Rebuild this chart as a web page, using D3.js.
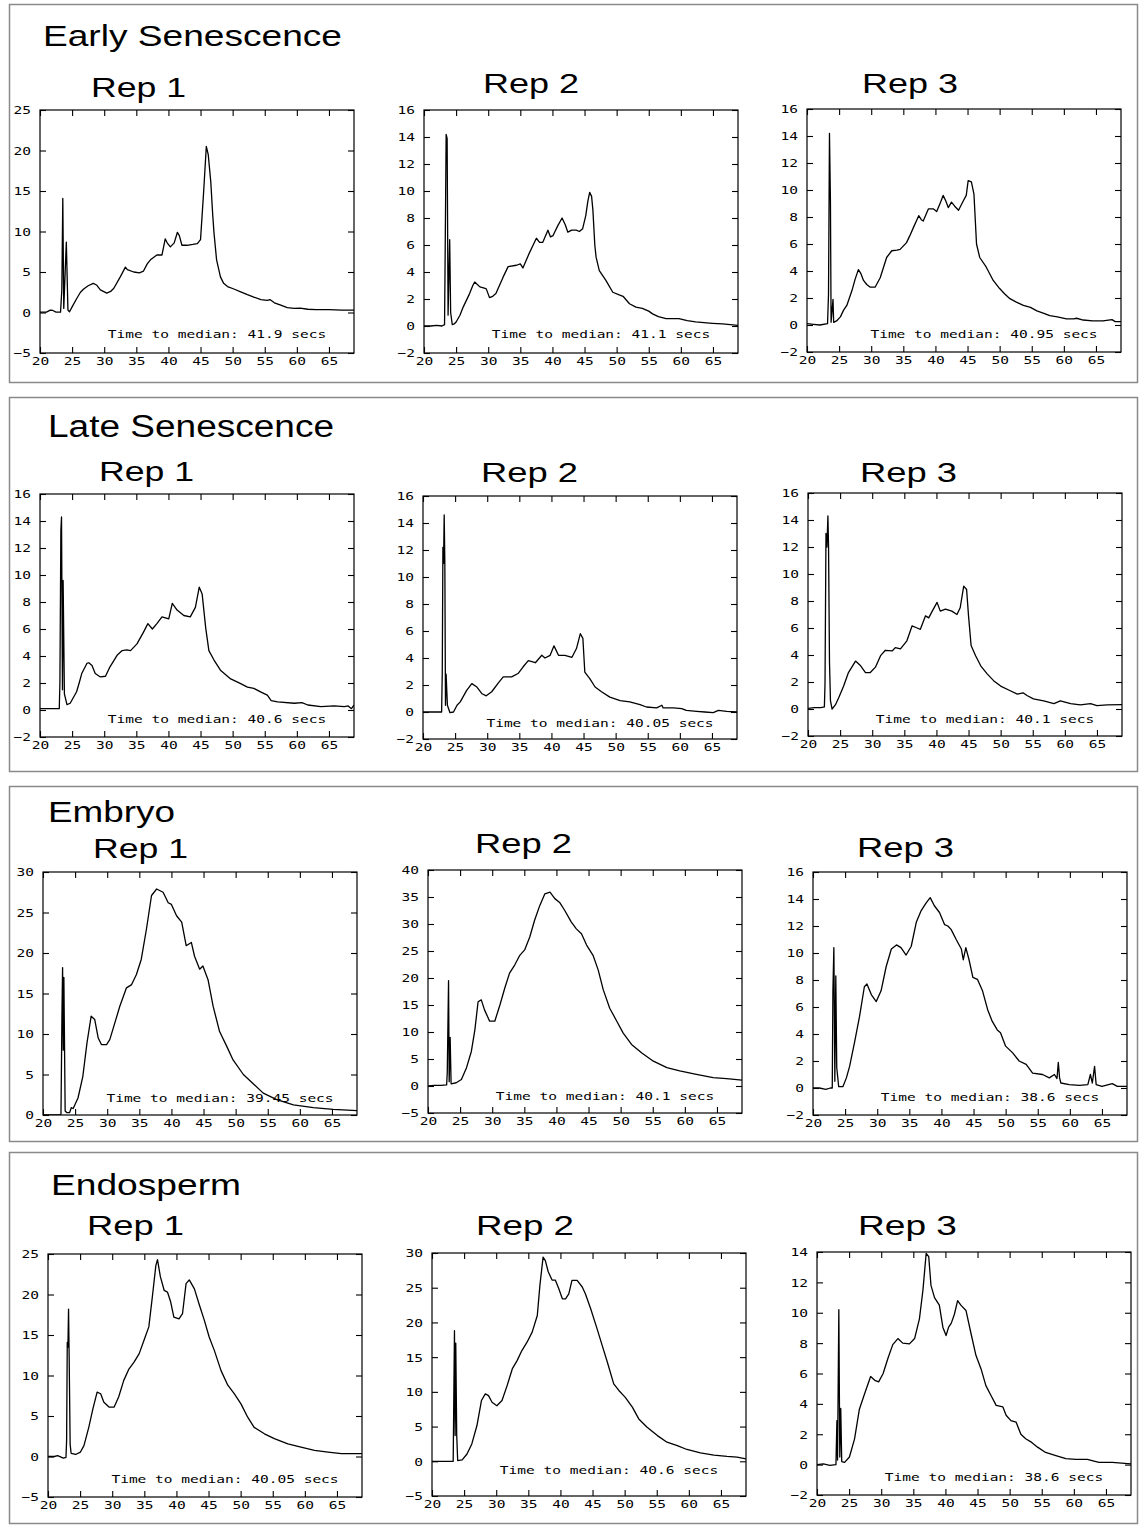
<!DOCTYPE html>
<html>
<head>
<meta charset="utf-8">
<script src="https://cdn.jsdelivr.net/npm/d3@7"></script>
<style>
  body { margin: 0; background: #fff; }
  svg { display: block; }
</style>
</head>
<body>
<svg id="chart" width="1139" height="1525"></svg>
<script>
// ---- Values ----------------------------------------------------------
const groupNames = ["Early Senescence", "Late Senescence", "Embryo", "Endosperm"];
const repNames = ["Rep 1", "Rep 2", "Rep 3"];
const xTicks = [20, 25, 30, 35, 40, 45, 50, 55, 60, 65];

// y tick values per plot (row-major: group, then rep)
const yTicksA = [-5, 0, 5, 10, 15, 20, 25];
const yTicksB = [-2, 0, 2, 4, 6, 8, 10, 12, 14, 16];
const yTicksC = [0, 5, 10, 15, 20, 25, 30];
const yTicksD = [-5, 0, 5, 10, 15, 20, 25, 30, 35, 40];
const yTicksE = [-5, 0, 5, 10, 15, 20, 25, 30];
const yTicksF = [-2, 0, 2, 4, 6, 8, 10, 12, 14];

// time to median (secs)
const medians = ["41.9", "41.1", "40.95", "40.6", "40.05", "40.1",
                 "39.45", "40.1", "38.6", "40.05", "40.6", "38.6"];

// electropherogram traces: [time (s), fluorescence]
const earlyRep1 = [[20,0.05],[21,0.05],[21.6,0.3],[22,0.25],[22.5,0.05],[23.2,0.05],[23.4,2.8],[23.55,14.1],[23.7,0.5],[24.1,8.7],[24.35,0.3],[24.6,0.1],[25,0.7],[25.7,1.7],[26.3,2.5],[26.8,2.9],[27.5,3.3],[28.3,3.6],[28.8,3.4],[29.4,2.8],[30.4,2.4],[31.0,2.6],[31.5,3.0],[32.5,4.4],[33.3,5.6],[33.6,5.3],[34.6,5.0],[35.5,4.9],[36.1,5.1],[36.7,6.0],[37.2,6.5],[38.2,7.1],[39.0,7.1],[39.5,9.1],[39.8,8.6],[40.3,8.1],[40.9,8.6],[41.4,9.9],[41.7,9.5],[42.1,8.3],[42.9,8.3],[43.8,8.4],[44.5,8.5],[45.0,9.0],[45.5,15.1],[45.9,20.5],[46.2,19.5],[46.6,16.1],[46.9,12],[47.1,9.8],[47.5,6.5],[48.1,4.4],[48.6,3.6],[49.2,3.2],[50.2,2.9],[51.25,2.55],[52.3,2.2],[53.3,1.9],[54.4,1.6],[55.4,1.5],[55.8,1.6],[56.5,1.2],[57.5,0.9],[58.5,0.6],[59.6,0.5],[60.5,0.55],[61.7,0.4],[63,0.35],[65,0.35],[67,0.3],[68.9,0.3]];
const earlyRep2 = [[20,0],[21,0],[22,0.05],[22.8,0],[23.2,0.1],[23.3,5.6],[23.45,14.2],[23.6,13.9],[23.75,0.8],[24.0,6.4],[24.15,1.0],[24.4,0.1],[24.7,0.15],[25.0,0.3],[25.6,0.8],[26.1,1.4],[27.1,2.4],[27.6,3.0],[27.9,3.26],[28.7,2.9],[29.4,2.8],[29.7,2.75],[30.2,2.1],[30.7,2.2],[31.2,2.4],[32.3,3.6],[33.1,4.4],[34.4,4.5],[35.0,4.6],[35.4,4.3],[36.4,5.4],[37.0,6.0],[37.5,6.5],[38.0,6.2],[38.5,6.2],[39.3,7.1],[39.7,6.6],[40.1,6.7],[40.8,7.4],[41.5,8.0],[42.0,7.5],[42.4,6.95],[43.0,7.1],[43.7,7.1],[44.2,7.0],[44.7,7.2],[45.2,8.2],[45.5,9.2],[45.8,9.9],[46.1,9.6],[46.3,8.6],[46.6,6.0],[46.8,5.1],[47.3,4.1],[48.3,3.4],[49.4,2.5],[50.4,2.3],[51.0,2.2],[52.0,1.65],[53.0,1.4],[54.0,1.3],[55.0,1.1],[55.6,0.9],[56.5,0.7],[57.7,0.55],[59.7,0.55],[61.0,0.4],[62.3,0.3],[64.9,0.2],[66.5,0.15],[68.9,0.05]];
const earlyRep3 = [[20,0.1],[21,0.05],[22,0.0],[23.2,0.1],[23.35,2.3],[23.5,14.2],[23.65,9.2],[23.75,0.2],[24.05,1.9],[24.15,0.2],[24.6,0.3],[25.2,0.6],[25.7,1.1],[26.2,1.45],[27.0,2.55],[27.5,3.4],[28.0,4.1],[28.4,3.8],[28.8,3.3],[29.3,3.0],[29.85,2.8],[30.6,2.8],[31.4,3.5],[32.4,5.0],[33.2,5.5],[34.0,5.55],[34.5,5.6],[35.5,6.1],[36.0,6.6],[36.6,7.25],[37.4,8.1],[37.8,7.8],[38.1,7.7],[38.9,8.6],[39.7,8.6],[40.2,8.4],[40.8,9.1],[41.2,9.6],[41.6,9.2],[42.0,8.7],[42.5,9.1],[43.0,8.8],[43.6,8.5],[44.35,9.2],[44.8,9.6],[45.1,10.7],[45.6,10.6],[46.0,9.7],[46.4,6.0],[46.9,5.0],[47.9,4.3],[49.0,3.3],[50.0,2.7],[50.8,2.3],[51.6,1.95],[52.6,1.7],[53.7,1.45],[54.8,1.3],[55.8,1.05],[57.0,0.85],[57.8,0.7],[59.0,0.6],[60.4,0.45],[61.5,0.45],[62.0,0.5],[63.0,0.37],[64.5,0.3],[66.1,0.3],[67.5,0.4],[68.0,0.25],[68.9,0.25]];
const lateRep1 = [[20,0.1],[21,0.1],[22,0.1],[23.0,0.1],[23.1,2.0],[23.25,13.3],[23.35,14.3],[23.5,1.5],[23.6,9.6],[23.8,1.2],[24.2,0.4],[24.7,0.5],[25.7,1.35],[26.1,2.0],[26.5,2.7],[27.3,3.45],[27.6,3.5],[28.1,3.3],[28.6,2.7],[29.4,2.45],[30.2,2.5],[30.9,3.2],[32.0,4.05],[32.8,4.4],[33.5,4.45],[34.1,4.4],[35.1,4.9],[36.1,5.75],[36.8,6.4],[37.5,6.0],[38.2,6.4],[39.0,6.9],[40.05,6.75],[40.6,7.9],[41.35,7.4],[42.4,7.0],[43.4,6.9],[44.2,7.6],[44.8,9.1],[45.25,8.6],[45.8,6.1],[46.3,4.4],[47.1,3.7],[48.1,2.95],[49.7,2.3],[51.25,1.95],[52.3,1.7],[53.3,1.6],[54.5,1.3],[55.4,1.1],[56.0,0.7],[57.0,0.6],[59.6,0.5],[60.8,0.55],[61.7,0.37],[63.75,0.25],[65.8,0.3],[67.4,0.25],[68,0.3],[68.5,0.1],[68.9,0.37]];
const lateRep2 = [[20,0],[21,0],[22.9,0],[23.0,2.9],[23.1,12.2],[23.2,11.0],[23.3,14.6],[23.4,11.1],[23.5,0.5],[23.6,2.8],[23.8,0.5],[24.2,-0.05],[24.75,0],[25.3,0.5],[25.8,0.75],[26.8,1.6],[27.6,2.1],[28.4,1.85],[29.2,1.35],[29.85,1.2],[30.7,1.5],[31.8,2.2],[32.5,2.6],[33.8,2.6],[34.8,2.85],[35.6,3.35],[36.4,3.8],[37.5,3.65],[38.5,4.2],[39.0,4.0],[39.8,4.2],[40.4,4.9],[41.1,4.2],[42.1,4.2],[43.2,4.05],[43.9,4.7],[44.5,5.8],[44.9,5.45],[45.2,2.95],[46.0,2.45],[46.8,1.85],[47.8,1.5],[49.1,1.1],[50.7,0.85],[52.2,0.75],[53.8,0.55],[54.8,0.37],[56.4,0.3],[57.2,0.5],[57.4,0.3],[59.0,0.3],[60.3,0.25],[61.0,0.12],[62.6,0.05],[63.9,0],[65.2,-0.05],[66.0,0.12],[67.3,0.05],[68.9,0.0]];
const lateRep3 = [[20,0.05],[21,0.1],[22,0.1],[22.55,0.15],[22.65,1.9],[22.8,13.0],[22.95,12.0],[23.1,14.3],[23.2,12.0],[23.35,3.4],[23.5,0.6],[23.75,0.0],[24.26,0.3],[24.8,0.85],[25.55,1.7],[26.3,2.7],[27.4,3.55],[28.2,3.2],[28.95,2.7],[29.7,2.7],[30.5,3.1],[31.3,3.95],[32.05,4.35],[33.1,4.3],[33.6,4.55],[34.4,4.45],[35.4,5.05],[36.2,6.15],[37.0,6.0],[37.5,5.9],[38.3,6.9],[38.8,6.75],[39.35,7.25],[40.1,7.9],[40.6,7.25],[41.4,7.4],[42.4,7.25],[43.2,7.0],[43.7,7.5],[44.25,9.1],[44.7,8.85],[45.0,6.9],[45.4,4.7],[46.1,3.95],[46.9,3.2],[47.9,2.6],[48.9,2.1],[50.0,1.7],[51.5,1.35],[52.6,1.1],[53.5,1.2],[54.1,1.0],[55.1,0.75],[56.7,0.6],[58.3,0.4],[59.3,0.6],[60.9,0.4],[62.4,0.3],[64.0,0.4],[65.0,0.25],[66.6,0.3],[68.9,0.32]];
const embryoRep1 = [[20,0],[21,0],[22.6,0],[22.8,0.1],[22.95,12.4],[23.05,18.2],[23.15,8],[23.25,17.0],[23.45,0.5],[23.7,0.3],[24.15,0.3],[24.4,0.9],[24.7,0.8],[25.45,2.1],[26.2,4.75],[26.85,8.9],[27.5,12.2],[28.05,11.8],[28.6,9.5],[29.1,8.7],[29.9,8.7],[30.4,9.3],[31.2,11.4],[31.95,13.4],[33.0,15.7],[33.8,16.1],[34.55,17.35],[35.3,19.2],[36.1,22.9],[36.9,27.1],[37.7,27.9],[38.7,27.5],[39.5,26.2],[40.0,26.0],[40.8,24.6],[41.6,23.8],[42.3,20.9],[43.1,21.3],[43.6,19.6],[44.4,18.0],[44.9,18.4],[45.7,16.7],[46.5,13.4],[47.5,10.3],[48.6,8.5],[49.6,6.8],[51.2,5.0],[52.7,3.9],[54.3,2.7],[56.4,1.9],[59.0,1.25],[62.1,0.9],[65.2,0.7],[68.9,0.55]];
const embryoRep2 = [[20,0],[21,0.1],[22,0.1],[22.9,0.2],[23.0,2.5],[23.2,19.5],[23.3,0.8],[23.45,9.0],[23.6,0.4],[24.4,0.6],[25.2,1.2],[26.0,3.4],[26.75,6.4],[27.3,10.4],[27.8,15.6],[28.3,15.95],[28.8,14.1],[29.6,12.0],[30.4,12.0],[31.2,15.0],[31.95,18.1],[32.7,20.9],[33.5,22.4],[34.3,24.2],[35.05,25.2],[35.85,27.6],[36.6,30.7],[37.4,33.4],[38.2,35.6],[39.0,35.9],[39.75,34.7],[40.5,34.0],[41.3,32.5],[42.3,30.4],[43.1,29.1],[43.9,28.2],[44.7,26.1],[45.7,24.2],[46.5,21.5],[47.3,17.8],[48.3,14.4],[49.4,12.0],[50.4,9.8],[51.7,7.7],[53.3,6.1],[55.1,4.6],[57.2,3.4],[59.2,2.8],[61.8,2.15],[64.4,1.55],[66.5,1.35],[68.9,1.1]];
const embryoRep3 = [[20,0],[21,0],[22,-0.1],[22.7,0],[23.0,0],[23.1,7.2],[23.25,10.4],[23.4,0.5],[23.55,8.3],[23.7,1.5],[24.0,0.1],[24.65,0.1],[25.2,0.75],[25.7,1.6],[26.5,3.45],[27.25,5.3],[28.0,7.5],[28.4,7.7],[29.1,6.9],[29.85,6.4],[30.6,7.2],[31.4,9.0],[32.2,10.3],[33.0,10.6],[33.7,10.4],[34.5,9.85],[35.3,10.5],[36.1,12.3],[36.8,13.1],[37.6,13.7],[38.25,14.1],[38.9,13.5],[39.7,13.0],[40.5,12.1],[41.0,12.0],[41.5,11.75],[42.3,11.0],[43.1,10.3],[43.4,9.5],[43.8,10.4],[44.3,9.5],[44.9,8.2],[45.6,8.05],[46.4,7.2],[47.2,5.8],[47.9,4.95],[48.7,4.3],[49.2,4.1],[50.0,3.1],[51.1,2.6],[52.1,2.0],[53.2,1.75],[54.2,1.1],[55.75,1.0],[56.8,0.75],[57.6,1.0],[58.0,0.7],[58.2,1.9],[58.4,0.75],[58.6,0.37],[59.9,0.25],[61.5,0.2],[62.8,0.25],[63.2,1.0],[63.5,0.37],[63.85,1.6],[64.1,0.25],[65.0,0.12],[66.6,0.32],[67.4,0.12],[68.9,0.12]];
const endoRep1 = [[20,0],[21,0],[21.5,0.1],[22.4,-0.2],[22.8,-0.1],[22.9,2.0],[23.0,14.1],[23.1,13.5],[23.2,18.2],[23.3,12.0],[23.45,1.5],[23.6,0.4],[24.3,0.25],[25.05,0.55],[25.6,1.35],[26.35,3.6],[27.0,5.9],[27.65,7.95],[28.2,7.75],[28.7,6.7],[29.5,6.1],[30.3,6.1],[31.0,7.35],[31.8,9.4],[32.6,10.8],[33.4,11.65],[34.2,12.7],[34.95,14.35],[35.7,16.0],[36.25,19.7],[36.8,23.6],[37.05,24.3],[37.5,22.2],[38.1,20.5],[38.6,20.3],[39.1,19.1],[39.6,17.2],[40.4,17.0],[40.95,17.65],[41.5,21.35],[42.0,21.8],[42.8,20.7],[43.6,18.65],[44.35,16.8],[45.1,14.75],[45.9,13.1],[46.95,10.6],[48.0,8.8],[49.0,7.75],[50.05,6.5],[51.1,4.85],[52.1,3.6],[53.7,2.8],[55.25,2.2],[57.35,1.55],[59.4,1.15],[61.5,0.75],[63.6,0.55],[65.7,0.35],[68.9,0.35]];
const endoRep2 = [[20,0],[21,0],[22,0],[23.3,0],[23.4,9.7],[23.5,18.8],[23.6,3.7],[23.7,17.0],[23.85,3.7],[24.0,0.1],[24.7,0.2],[25.45,1.05],[26.2,2.5],[27.0,5.15],[27.7,8.75],[28.3,9.7],[28.8,9.45],[29.35,8.5],[30.1,8.0],[30.9,8.75],[31.7,10.9],[32.5,13.3],[33.25,14.5],[34.0,15.95],[34.8,17.15],[35.6,18.6],[36.4,21.0],[36.8,25.3],[37.3,29.4],[37.65,28.9],[38.1,27.3],[38.7,26.1],[39.2,26.1],[39.75,24.85],[40.3,23.4],[40.8,23.4],[41.3,24.1],[41.8,26.05],[42.6,26.05],[43.4,25.1],[43.9,24.1],[44.7,22.0],[45.7,19.1],[46.5,16.7],[47.3,14.3],[48.3,11.15],[49.1,10.2],[50.1,9.2],[51.2,7.8],[52.2,6.1],[53.5,4.9],[55.1,3.7],[56.6,2.75],[58.2,2.25],[59.7,1.7],[61.8,1.2],[63.9,0.9],[65.95,0.7],[67.5,0.6],[68.9,0.35]];
const endoRep3 = [[20,0],[21,0.05],[22,-0.05],[22.95,0],[23.1,2.9],[23.2,0.3],[23.4,10.2],[23.55,0.5],[23.7,3.7],[23.85,0.2],[24.3,0.15],[25.05,0.5],[25.85,1.7],[26.6,3.65],[27.4,4.65],[28.35,5.8],[29.0,5.55],[29.6,5.45],[30.3,6.0],[31.05,7.0],[31.8,7.9],[32.6,8.3],[33.35,8.0],[34.4,7.95],[35.2,8.3],[35.95,9.6],[36.5,11.5],[37.0,13.9],[37.4,13.7],[37.75,11.8],[38.3,11.0],[39.05,10.5],[39.6,9.05],[40.1,8.5],[40.5,9.05],[40.9,9.3],[41.4,9.9],[41.9,10.8],[42.4,10.5],[43.2,10.15],[43.95,8.7],[44.75,7.2],[45.55,6.3],[46.3,5.2],[47.1,4.55],[47.9,3.9],[48.95,3.8],[49.45,3.25],[50.2,2.9],[51.0,2.8],[51.75,2.0],[52.5,1.7],[53.3,1.5],[54.35,1.15],[55.6,0.8],[57.2,0.6],[58.75,0.4],[60.3,0.35],[62.1,0.35],[63.9,0.15],[66.0,0.15],[68.9,0.05]];

// ---- Layout ----------------------------------------------------------
const W = 314, H = 243;
const xDomain = [20, 68.9];
const monoScale = 1.32;               // the instrument font is set wide
const monoFont = "'DejaVu Sans Mono', monospace";
const sansFont = "'Liberation Sans', Arial, sans-serif";

const panelBoxes = [[9.5, 4.5, 1128, 378], [9.5, 397.5, 1128, 374], [9.5, 786.5, 1128, 355], [9.5, 1152.5, 1128, 371]];
const groupTitlePos = [[43, 46, 299, 30], [48, 437, 286, 31], [48, 822, 127, 29], [51, 1195, 190, 30]];
const repTitlePos = [
  [[91, 97, 95], [483, 93, 96], [862, 93, 96]],
  [[99, 481, 95], [481, 482, 97], [860, 482, 97]],
  [[93, 858, 95], [475, 853, 97], [857, 857, 97]],
  [[87, 1235, 97], [476, 1235, 98], [858, 1235, 99]]
];
const plotOrigins = [
  [[40, 110], [424, 110], [807, 109]],
  [[40, 494], [423, 496], [808, 493]],
  [[43, 872], [428, 870], [813, 872]],
  [[48, 1254], [432, 1253], [817, 1252]]
];
const medianLift = [15, 15, 14, 14, 12, 13, 13, 13, 14, 14, 22, 14];

// table built from the named arrays
const plots = [
  { series: earlyRep1, yTicks: yTicksA }, { series: earlyRep2, yTicks: yTicksB }, { series: earlyRep3, yTicks: yTicksB },
  { series: lateRep1, yTicks: yTicksB },  { series: lateRep2, yTicks: yTicksB },  { series: lateRep3, yTicks: yTicksB },
  { series: embryoRep1, yTicks: yTicksC },{ series: embryoRep2, yTicks: yTicksD },{ series: embryoRep3, yTicks: yTicksB },
  { series: endoRep1, yTicks: yTicksA },  { series: endoRep2, yTicks: yTicksE },  { series: endoRep3, yTicks: yTicksF }
];

// ---- Drawing ---------------------------------------------------------
const svg = d3.select("#chart");
svg.append("rect").attr("width", 1139).attr("height", 1525).attr("fill", "#fff");

panelBoxes.forEach(([x, y, w, h]) => {
  svg.append("rect").attr("x", x).attr("y", y).attr("width", w).attr("height", h)
    .attr("fill", "none").attr("stroke", "#8a8a8a").attr("stroke-width", 1.5);
});

groupNames.forEach((name, gi) => {
  const [tx, ty, tw, ts] = groupTitlePos[gi];
  svg.append("text").attr("x", tx).attr("y", ty)
    .attr("font-family", sansFont).attr("font-size", ts).attr("fill", "#000")
    .attr("textLength", tw).attr("lengthAdjust", "spacingAndGlyphs")
    .text(name);

  repNames.forEach((rep, ri) => {
    const idx = gi * 3 + ri;
    const p = plots[idx];
    const [rx, ry, rw] = repTitlePos[gi][ri];
    svg.append("text").attr("x", rx).attr("y", ry)
      .attr("font-family", sansFont).attr("font-size", 28).attr("fill", "#000")
      .attr("textLength", rw).attr("lengthAdjust", "spacingAndGlyphs")
      .text(rep);

    const [ox, oy] = plotOrigins[gi][ri];
    const g = svg.append("g").attr("transform", `translate(${ox},${oy})`);

    const x = d3.scaleLinear().domain(xDomain).range([0, W]);
    const yt = p.yTicks;
    const y = d3.scaleLinear().domain([yt[0], yt[yt.length - 1]]).range([H, 0]);

    const styleAxis = sel => {
      sel.select(".domain").remove();
      sel.selectAll(".tick line").attr("stroke", "#000").attr("stroke-width", 1.1);
      sel.selectAll("text").attr("font-family", monoFont).attr("font-size", 11).attr("fill", "#000");
    };

    // bottom axis with labels
    g.append("g").attr("transform", `translate(0,${H})`)
      .call(d3.axisBottom(x).tickValues(xTicks).tickSizeInner(-6).tickSizeOuter(0).tickPadding(0).tickFormat(d3.format("d")))
      .call(styleAxis)
      .call(a => a.selectAll("text").attr("y", 12).attr("dy", null).attr("transform", `scale(${monoScale},1)`));
    // top axis, ticks only
    g.append("g")
      .call(d3.axisTop(x).tickValues(xTicks).tickSizeInner(-6).tickSizeOuter(0).tickFormat(""))
      .call(styleAxis);
    // left axis with labels
    g.append("g")
      .call(d3.axisLeft(y).tickValues(yt).tickSizeInner(-6).tickSizeOuter(0).tickFormat(d3.format("d")))
      .call(styleAxis)
      .call(a => a.selectAll("text").attr("x", -9 / monoScale).attr("dy", "0.36em").attr("transform", `scale(${monoScale},1)`));
    // right axis, ticks only
    g.append("g").attr("transform", `translate(${W},0)`)
      .call(d3.axisRight(y).tickValues(yt).tickSizeInner(-6).tickSizeOuter(0).tickFormat(""))
      .call(styleAxis);

    // frame
    g.append("rect").attr("width", W).attr("height", H)
      .attr("fill", "none").attr("stroke", "#000").attr("stroke-width", 1.2);

    // trace
    const clipId = `clip${idx}`;
    g.append("clipPath").attr("id", clipId).append("rect").attr("width", W).attr("height", H);
    const line = d3.line().x(d => x(d[0])).y(d => y(d[1]));
    g.append("path").datum(p.series)
      .attr("clip-path", `url(#${clipId})`)
      .attr("d", line)
      .attr("fill", "none").attr("stroke", "#000").attr("stroke-width", 1.3)
      .attr("stroke-linejoin", "round");

    // median annotation
    g.append("g").attr("transform", `translate(177,${H - medianLift[idx]}) scale(${monoScale},1)`)
      .append("text").attr("text-anchor", "middle")
      .attr("font-family", monoFont).attr("font-size", 11).attr("fill", "#000")
      .text(`Time to median: ${medians[idx]} secs`);
  });
});
</script>
</body>
</html>
